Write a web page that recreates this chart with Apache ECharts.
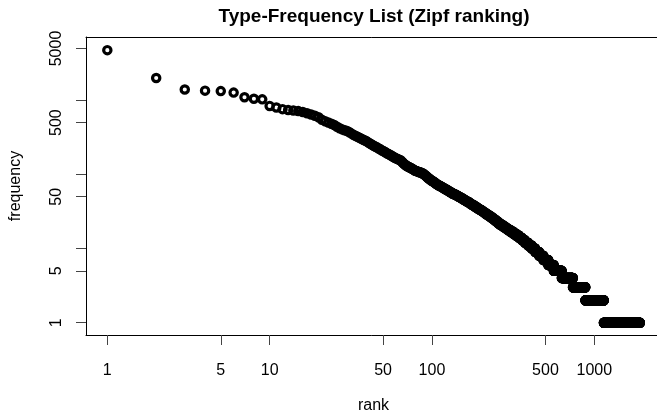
<!DOCTYPE html>
<html>
<head>
<meta charset="utf-8">
<script src="https://cdn.jsdelivr.net/npm/echarts@6/dist/echarts.min.js"></script>
<style>
  html, body { margin: 0; padding: 0; background: #fff; }
  #chart { width: 657px; height: 413px; }
</style>
</head>
<body>
<div id="chart"></div>
<script>
// Frequencies of the 100 most frequent types, by rank
const topFreqs = [
  4750, 2000, 1400, 1350, 1330, 1270, 1100, 1050, 1030, 840,
  800, 760, 740, 730, 715, 695, 670, 645, 620, 590,
  545, 520, 500, 482, 465, 440, 420, 405, 395, 385,
  370, 355, 340, 330, 320, 310, 300, 292, 285, 275,
  265, 258, 250, 242, 236, 230, 224, 218, 212, 207,
  202, 197, 192, 188, 184, 180, 176, 172, 168, 165,
  162, 160, 157, 155, 150, 145, 140, 136, 133, 130,
  128, 126, 124, 122, 120, 118, 116, 114, 112, 111,
  110, 109, 108, 107, 106, 105, 104, 103, 101, 99,
  97, 95, 93, 91, 89, 88, 86, 85, 83, 82
];

// Remaining types: frequency value and how many types share it
const lowFreqs = [
  81, 80, 79, 78, 76, 75, 74, 73, 72, 71, 70, 69, 68, 67, 66, 65, 64, 63, 62, 61,
  60, 59, 58, 57, 56, 55, 54, 53, 52, 51, 50, 49, 48, 47, 46, 45, 44, 43, 42, 41,
  40, 39, 38, 37, 36, 35, 34, 33, 32, 31, 30, 29, 28, 27, 26, 25, 24, 23, 22, 21,
  20, 19, 18, 17, 16, 15, 14, 13, 12, 11, 10, 9, 8, 7, 6, 5, 4, 3, 2, 1
];
const lowCounts = [
  1, 1, 1, 1, 1, 1, 1, 1, 1, 2, 1, 1, 2, 1, 1, 2, 1, 2, 1, 2,
  2, 1, 2, 2, 1, 3, 2, 3, 2, 2, 3, 2, 3, 2, 3, 2, 3, 3, 4, 2,
  3, 4, 3, 4, 3, 4, 4, 5, 4, 5, 4, 5, 6, 5, 6, 5, 7, 6, 7, 9,
  9, 10, 12, 13, 13, 15, 14, 16, 18, 20, 21, 25, 28, 35, 42, 68, 108, 142, 265, 760
];

// Axis tick positions and labels
const xTicks = [1, 5, 10, 50, 100, 500, 1000];
const yTicks = [1, 5, 10, 50, 100, 500, 1000, 5000];
const yLabels = [1, 5, 50, 500, 5000];

// Build the ranked list: rank -> frequency
const points = [];
topFreqs.forEach((f, i) => points.push([i + 1, f]));
let rank = topFreqs.length;
lowFreqs.forEach((f, i) => {
  for (let k = 0; k < lowCounts[i]; k++) {
    rank += 1;
    points.push([rank, f]);
  }
});

const FONT = 'Liberation Sans, Arial, Helvetica, sans-serif';
const plain = v => String(Math.round(v));
const X_MIN = 0.739, X_MAX = 2576;
const frameLine = { show: true, lineStyle: { color: '#000', width: 1 } };
const chart = echarts.init(document.getElementById('chart'), null, { renderer: 'canvas' });

chart.setOption({
  animation: false,
  backgroundColor: '#fff',
  title: {
    text: 'Type-Frequency List (Zipf ranking)',
    left: 374,
    top: 7,
    padding: 0,
    textAlign: 'center',
    textStyle: { fontFamily: FONT, fontSize: 19, fontWeight: 'bold', color: '#000' }
  },
  grid: {
    left: 86, top: 37, right: -4, bottom: 78,
    outerBoundsMode: 'none',
    containLabel: false,
    show: false
  },
  xAxis: [{
    type: 'log',
    logBase: 10,
    position: 'bottom',
    min: X_MIN,
    max: X_MAX,
    name: 'rank',
    nameLocation: 'middle',
    nameGap: 63,
    nameTextStyle: { fontFamily: FONT, fontSize: 16, color: '#000' },
    axisLine: frameLine,
    splitLine: { show: false },
    minorTick: { show: false },
    axisTick: { show: true, length: 10, customValues: xTicks, lineStyle: { color: '#444', width: 1 } },
    axisLabel: { customValues: xTicks, formatter: plain, margin: 28, fontFamily: FONT, fontSize: 16, color: '#000' }
  }, {
    // top edge of the plot frame
    type: 'log',
    logBase: 10,
    position: 'top',
    min: X_MIN,
    max: X_MAX,
    axisLine: frameLine,
    axisTick: { show: false },
    axisLabel: { show: false },
    splitLine: { show: false },
    minorTick: { show: false }
  }],
  yAxis: {
    type: 'log',
    logBase: 10,
    min: 0.682,
    max: 7145,
    name: 'frequency',
    nameLocation: 'middle',
    nameGap: 62,
    nameTextStyle: { fontFamily: FONT, fontSize: 16, color: '#000' },
    axisLine: frameLine,
    splitLine: { show: false },
    minorTick: { show: false },
    axisTick: { show: true, length: 10, customValues: yTicks, lineStyle: { color: '#444', width: 1 } },
    axisLabel: { customValues: yLabels, formatter: plain, rotate: 90, margin: 21, fontFamily: FONT, fontSize: 16, color: '#000' }
  },
  series: [{
    type: 'scatter',
    xAxisIndex: 0,
    data: points,
    symbol: 'circle',
    symbolSize: 7.3,
    large: false,
    itemStyle: { color: 'rgba(0,0,0,0)', borderColor: '#000', borderWidth: 3.2, opacity: 1 },
    emphasis: { disabled: true }
  }]
});
</script>
</body>
</html>
